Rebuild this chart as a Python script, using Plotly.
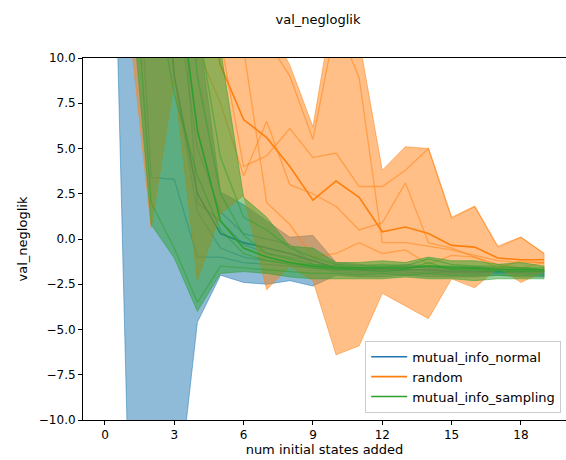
import plotly.graph_objects as go

# ---------------- data ----------------
x_states = list(range(20))
x_ticks = [0, 3, 6, 9, 12, 15, 18]
y_ticks = [10.0, 7.5, 5.0, 2.5, 0.0, -2.5, -5.0, -7.5, -10.0]
y_ticktext = ["10.0", "7.5", "5.0", "2.5", "0.0", "\u22122.5", "\u22125.0", "\u22127.5", "\u221210.0"]

methods = ["mutual_info_normal", "random", "mutual_info_sampling"]

# mutual_info_normal
normal_upper = [80, 60, 40, 25, 12, 2.6, 1.9, 1.0, 0.1, 0.2, -1.3, -1.4, -1.5, -1.4, -1.5, -1.5, -1.5, -1.6, -1.6, -1.7]
normal_lower = [38.7, -12.6, -40, -16, -4.6, -2.0, -2.4, -2.5, -2.3, -2.6, -2.0, -2.1, -2.1, -2.0, -2.1, -2.1, -2.1, -2.0, -2.1, -2.1]
normal_mean = [60, 40, 25, 9.0, 2.5, 0.3, -0.2, -0.5, -0.8, -1.2, -1.6, -1.7, -1.7, -1.7, -1.7, -1.8, -1.8, -1.8, -1.8, -1.8]
normal_runs = [
    [40, 25, 3.4, 3.3, -1.0, -1.0, -1.3, -1.4, -1.5, -1.6, -1.8, -1.9, -1.8, -1.9, -1.8, -1.9, -1.9, -1.9, -1.9, -2.0],
    [80, 50, 30, 14, 5.0, 1.5, 0.3, 0.0, -0.3, -1.4, -1.5, -1.6, -1.6, -1.5, -1.6, -1.7, -1.6, -1.7, -1.7, -1.7],
    [70, 45, 20, 9.0, 1.5, -0.5, -1.0, -1.2, -1.3, -1.5, -1.7, -1.8, -1.7, -1.8, -1.9, -1.8, -1.9, -1.8, -1.9, -1.9],
    [90, 60, 35, 20, 2.0, 1.0, -0.3, -0.8, -1.0, -1.2, -1.6, -1.7, -1.6, -1.7, -1.7, -1.8, -1.7, -1.8, -1.8, -1.8],
]

# random
random_upper = [60, 50, 40, 30, 25, 20, 16, 12, 9.6, 6.2, 13.8, 11, 3.8, 5.1, 5.0, 1.15, 1.8, -0.45, 0.1, -0.8]
random_lower = [30, 12.4, 0.6, 8.7, -2.3, 1.4, 2.4, -2.8, -1.5, -2.3, -6.4, -5.9, -3.0, -3.7, -4.4, -2.2, -2.7, -1.6, -2.4, -1.8]
random_mean = [40, 30, 22, 18, 15, 9.6, 6.6, 5.6, 4.0, 2.15, 3.2, 2.3, 0.4, 0.66, 0.3, -0.35, -0.45, -1.05, -1.15, -1.15]
random_runs = [
    [30, 25, 18, 14, 12, 11, 4.0, 4.6, 6.1, 4.5, 4.75, 2.9, 2.9, 3.8, 5.0, 1.2, 1.8, -0.4, 0.1, -0.8],
    [45, 35, 25, 20, 16, 14, 12, 11, 9.0, 5.5, 12, 8.9, -0.2, -0.2, -0.4, -0.6, -0.9, -1.2, -1.3, -1.3],
    [25, 18, 12, 11, 10.5, 7.5, 3.5, 6.5, 3.0, 2.5, 1.8, 0.5, 0.9, 3.1, -0.2, -0.5, -1.0, -1.6, -1.2, -1.3],
    [50, 40, 30, 24, 20, 15, 10.5, 2.0, 0.8, -1.0, -0.8, -0.2, -0.8, -0.6, -1.4, -0.9, -1.0, -1.4, -1.6, -1.3],
]

# mutual_info_sampling
sampling_upper = [80, 60, 40, 30, 20, 10.5, 2.3, 1.2, -0.4, -0.5, -1.3, -1.3, -1.2, -1.3, -1.0, -1.2, -1.2, -1.4, -1.3, -1.5]
sampling_lower = [30, 15.4, 0.8, -1.05, -4.0, -1.9, -1.8, -1.9, -2.1, -2.2, -2.2, -2.2, -2.2, -2.1, -2.2, -2.2, -2.3, -2.2, -2.2, -2.2]
sampling_mean = [70, 50, 30, 16, 6.0, 1.0, -0.5, -1.0, -1.3, -1.5, -1.6, -1.6, -1.6, -1.6, -1.5, -1.6, -1.6, -1.7, -1.7, -1.7]
sampling_runs = [
    [60, 35, 15, 8.0, 3.5, 0.5, -0.8, -1.2, -1.4, -1.6, -1.7, -1.7, -1.8, -1.7, -1.3, -1.7, -1.7, -1.8, -1.8, -1.8],
    [80, 60, 40, 22, 9.0, 2.5, 0.2, -0.8, -1.1, -1.4, -1.5, -1.6, -1.5, -1.6, -1.5, -1.5, -1.6, -1.6, -1.6, -1.7],
    [50, 20, 2.0, -0.5, -3.5, -1.5, -1.6, -1.7, -1.8, -1.9, -1.9, -2.0, -1.9, -2.0, -1.9, -2.0, -2.0, -2.0, -2.0, -2.0],
    [90, 70, 45, 30, 12, 4.5, 1.2, 0.5, -0.5, -1.0, -1.4, -1.5, -1.4, -1.5, -1.1, -1.4, -1.5, -1.5, -1.6, -1.6],
]

colors = {"mutual_info_normal": (31, 119, 180),
          "random": (255, 127, 14),
          "mutual_info_sampling": (44, 160, 44)}

series = {
    "mutual_info_normal": (normal_upper, normal_lower, normal_mean, normal_runs),
    "random": (random_upper, random_lower, random_mean, random_runs),
    "mutual_info_sampling": (sampling_upper, sampling_lower, sampling_mean, sampling_runs),
}

def rgba(c, a):
    return "rgba(%d,%d,%d,%s)" % (c[0], c[1], c[2], a)

fig = go.Figure()
for name in methods:
    up, lo, mean, runs = series[name]
    c = colors[name]
    fig.add_trace(go.Scatter(
        x=x_states + x_states[::-1], y=up + lo[::-1],
        fill="toself", fillcolor=rgba(c, 0.5),
        line=dict(color=rgba(c, 0.5), width=1),
        mode="lines", showlegend=False, hoverinfo="skip"))
    for r in runs:
        fig.add_trace(go.Scatter(
            x=x_states, y=r, mode="lines",
            line=dict(color=rgba(c, 0.5), width=1.3),
            showlegend=False, hoverinfo="skip"))
    fig.add_trace(go.Scatter(
        x=x_states, y=mean, mode="lines", name=name,
        line=dict(color=rgba(c, 1), width=1.6)))

font = "DejaVu Sans, sans-serif"
fig.update_layout(
    width=566, height=460,
    margin=dict(l=83, r=0, t=58, b=40),
    paper_bgcolor="white", plot_bgcolor="white",
    font=dict(family=font, size=12, color="black"),
    title=dict(text="val_negloglik", x=318 / 566, xref="container", xanchor="center",
               y=1 - 19 / 460, yref="container", yanchor="middle",
               font=dict(size=13, family=font, color="black")),
    legend=dict(x=0.99, y=0.02, xanchor="right", yanchor="bottom",
                bgcolor="rgba(255,255,255,0.8)", bordercolor="#cccccc", borderwidth=1,
                font=dict(size=13, family=font, color="black"),
                tracegroupgap=0, itemwidth=36),
    showlegend=True,
)
fig.update_xaxes(
    range=[-0.95, 19.95], tickvals=x_ticks, ticktext=[str(t) for t in x_ticks],
    showgrid=False, zeroline=False, showline=True, linecolor="black", linewidth=1,
    mirror=True, ticks="outside", ticklen=4, tickcolor="black",
    tickfont=dict(size=12, family=font, color="black"),
    title=dict(text="num initial states added", font=dict(size=13, family=font, color="black"), standoff=3),
)
fig.update_yaxes(
    range=[-10, 10], tickvals=y_ticks, ticktext=y_ticktext,
    showgrid=False, zeroline=False, showline=True, linecolor="black", linewidth=1,
    mirror=False, ticks="outside", ticklen=4, tickcolor="black",
    tickfont=dict(size=12, family=font, color="black"),
    title=dict(text="val_negloglik", font=dict(size=13, family=font, color="black"), standoff=8),
)

fig.write_html("out.html", config={"displayModeBar": False},
               post_script="document.body.style.margin='0';document.body.style.overflow='hidden';")
